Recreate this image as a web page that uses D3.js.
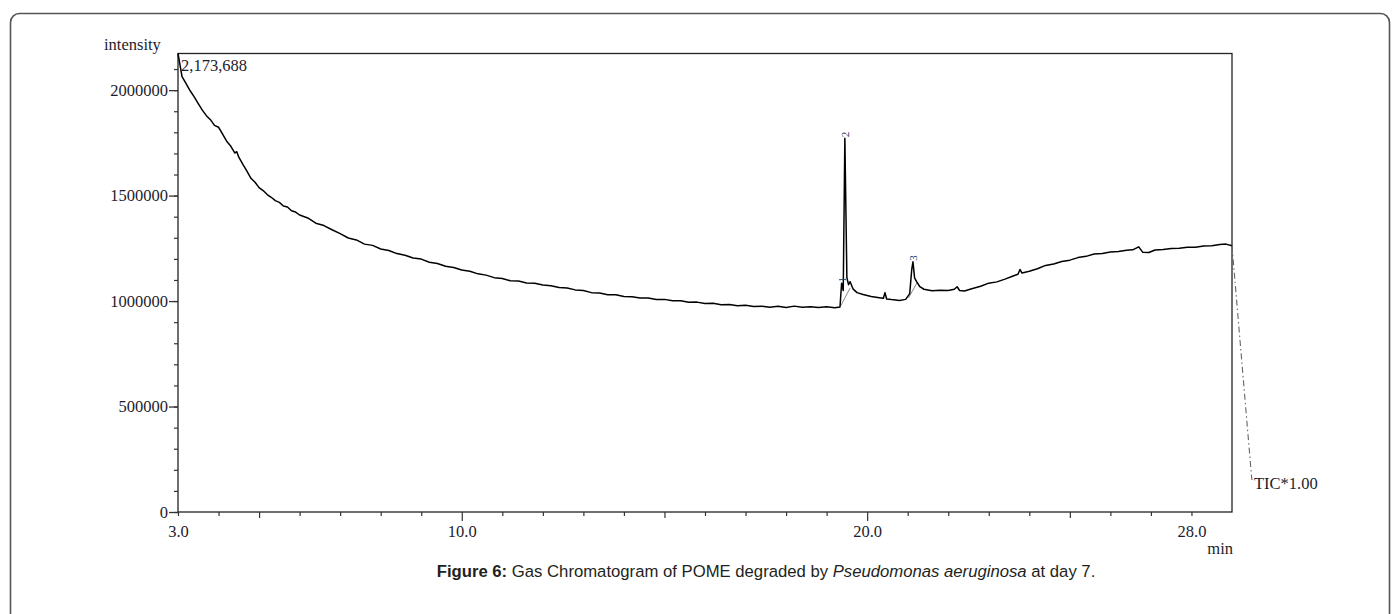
<!DOCTYPE html>
<html><head><meta charset="utf-8">
<script src="https://cdn.jsdelivr.net/npm/d3@7"></script>
<style>
html,body{margin:0;padding:0;background:#fff;}
svg{display:block;}
</style></head><body>
<svg id="chart" width="1400" height="614"></svg>
<script>
// Total ion chromatogram: retention time (min) and intensity
const retentionTime = [
  3.00,3.05,3.10,3.20,3.30,3.40,3.50,3.60,3.70,3.80,3.90,4.00,4.05,4.10,4.20,4.30,4.40,4.45,4.50,4.60,
  4.70,4.80,4.90,5.00,5.10,5.20,5.30,5.40,5.50,5.60,5.70,5.80,5.90,6.00,6.20,6.40,6.60,6.80,7.00,7.20,
  7.40,7.60,7.80,8.00,8.20,8.40,8.60,8.80,9.00,9.20,9.40,9.60,9.80,10.00,10.20,10.40,10.60,10.80,11.00,11.20,
  11.40,11.60,11.80,12.00,12.20,12.40,12.60,12.80,13.00,13.20,13.40,13.60,13.80,14.00,14.20,14.40,14.60,14.80,15.00,15.20,
  15.40,15.60,15.80,16.00,16.20,16.40,16.60,16.80,17.00,17.20,17.40,17.60,17.80,18.00,18.20,18.40,18.60,18.80,19.00,19.20,
  19.33,19.37,19.41,19.45,19.50,19.54,19.58,19.65,19.75,19.90,20.10,20.30,20.40,20.44,20.48,20.60,20.80,20.95,21.05,21.10,
  21.13,21.17,21.22,21.30,21.40,21.60,21.80,22.00,22.15,22.22,22.28,22.40,22.60,22.80,23.00,23.20,23.40,23.60,23.72,23.77,
  23.82,24.00,24.20,24.40,24.60,24.80,25.00,25.20,25.40,25.60,25.80,26.00,26.20,26.40,26.55,26.70,26.80,26.95,27.10,27.30,
  27.50,27.70,27.90,28.10,28.30,28.50,28.70,28.85,29.00
];
const intensity = [
  2173688,2118000,2064000,2031000,1997000,1968000,1936000,1905000,1879000,1860000,1833000,1824000,1808000,1792000,1758000,1735000,1702000,1708000,1682000,1648000,
  1616000,1582000,1563000,1538000,1524000,1505000,1492000,1476000,1468000,1451000,1446000,1428000,1422000,1408000,1394000,1369000,1358000,1338000,1320000,1299000,
  1290000,1270000,1264000,1247000,1240000,1225000,1217000,1204000,1199000,1184000,1178000,1165000,1159000,1147000,1141000,1129000,1123000,1111000,1107000,1096000,
  1095000,1086000,1084000,1076000,1073000,1064000,1062000,1053000,1050000,1040000,1038000,1030000,1030000,1022000,1021000,1015000,1015000,1007000,1008000,1001000,
  1002000,994000,995000,988000,990000,983000,984000,978000,980000,974000,976000,971000,975000,970000,976000,971000,973000,969000,973000,968000,
  972000,1085000,1050000,1772000,1112000,1078000,1092000,1058000,1040000,1031000,1022000,1016000,1013000,1040000,1010000,1007000,1003000,1008000,1035000,1150000,
  1186000,1110000,1092000,1068000,1056000,1049000,1051000,1050000,1056000,1068000,1050000,1048000,1060000,1070000,1085000,1091000,1104000,1119000,1127000,1150000,
  1133000,1141000,1153000,1169000,1176000,1188000,1194000,1206000,1212000,1223000,1226000,1233000,1235000,1241000,1243000,1257000,1231000,1230000,1242000,1244000,
  1249000,1250000,1255000,1255000,1261000,1262000,1268000,1270000,1262000
];

// Integrated peaks
const peakNumbers = ["1", "2", "3"];
const peakTimes = [19.37, 19.45, 21.13];
const peakHeights = [1085000, 1772000, 1186000];
// Integration baselines: [start time, start intensity, end time, end intensity]
const peakBaselines = [
  [19.35, 978000, 19.58, 1062000],
  [21.02, 1015000, 21.24, 1090000]
];

const maxIntensity = 2173688;
const yMajorTicks = [0, 500000, 1000000, 1500000, 2000000];
const xLabelTicks = [3.0, 10.0, 20.0, 28.0];
const timeRange = [3.0, 29.0];

const svg = d3.select("#chart");
const serif = "'Liberation Serif', 'Times New Roman', serif";
const textColor = "#1c1c2c";

const plotLeft = 178, plotRight = 1232, plotTop = 53.5, plotBottom = 512;
const x = d3.scaleLinear().domain(timeRange).range([plotLeft, plotRight]);
const y = d3.scaleLinear().domain([0, maxIntensity]).range([plotBottom, plotTop]);

// outer figure frame
svg.append("rect")
  .attr("x", 10.5).attr("y", 13.5).attr("width", 1379).attr("height", 640)
  .attr("rx", 9).attr("fill", "none").attr("stroke", "#555").attr("stroke-width", 1.6);

// plot box
svg.append("rect")
  .attr("x", plotLeft).attr("y", plotTop).attr("width", plotRight - plotLeft).attr("height", plotBottom - plotTop)
  .attr("fill", "none").attr("stroke", "#222").attr("stroke-width", 1.3);

// y axis: minor ticks every 100000, labelled ticks every 500000
const yMinor = d3.range(0, maxIntensity, 100000);
svg.append("g").attr("transform", `translate(${plotLeft},0)`)
  .call(d3.axisLeft(y).tickValues(yMinor).tickSize(4).tickFormat(""))
  .call(g => g.select(".domain").remove())
  .call(g => g.selectAll("line").attr("stroke", "#333").attr("stroke-width", 1.2));
svg.append("g").attr("transform", `translate(${plotLeft},0)`)
  .call(d3.axisLeft(y).tickValues(yMajorTicks).tickSize(9).tickPadding(1).tickFormat(d3.format("d")))
  .call(g => g.select(".domain").remove())
  .call(g => g.selectAll("line").attr("stroke", "#333").attr("stroke-width", 1.3))
  .call(g => g.selectAll("text").attr("font-family", serif).attr("font-size", 16.5).attr("fill", textColor));

// x axis: ticks every minute, longer at 5 and 10 min multiples
const xMinor = d3.range(3, 29, 1);
svg.append("g").attr("transform", `translate(0,${plotBottom})`)
  .call(d3.axisBottom(x).tickValues(xMinor).tickSize(4).tickFormat(""))
  .call(g => g.select(".domain").remove())
  .call(g => g.selectAll(".tick line")
    .attr("y2", d => d % 10 === 0 ? 9 : (d % 5 === 0 ? 6 : 4))
    .attr("stroke", "#333").attr("stroke-width", 1.2));
svg.append("g").attr("transform", `translate(0,${plotBottom})`)
  .call(d3.axisBottom(x).tickValues(xLabelTicks).tickSize(0).tickPadding(13).tickFormat(d3.format(".1f")))
  .call(g => g.select(".domain").remove())
  .call(g => g.selectAll("text").attr("font-family", serif).attr("font-size", 16.5).attr("fill", textColor));

// axis titles
svg.append("text").attr("x", 104).attr("y", 50)
  .attr("font-family", serif).attr("font-size", 16.5).attr("fill", textColor).text("intensity");
svg.append("text").attr("x", plotRight + 1).attr("y", 554).attr("text-anchor", "end")
  .attr("font-family", serif).attr("font-size", 16.5).attr("fill", textColor).text("min");

// maximum intensity label
svg.append("text").attr("x", plotLeft + 3).attr("y", 70.5)
  .attr("font-family", serif).attr("font-size", 16.5).attr("fill", textColor)
  .text(d3.format(",")(maxIntensity));

// integration baselines
svg.append("g").selectAll("line").data(peakBaselines).join("line")
  .attr("x1", d => x(d[0])).attr("y1", d => y(d[1]))
  .attr("x2", d => x(d[2])).attr("y2", d => y(d[3]))
  .attr("stroke", "#8a8a8a").attr("stroke-width", 1);

// chromatogram trace
const trace = retentionTime.map((t, i) => [t, intensity[i]]);
svg.append("path").datum(trace)
  .attr("fill", "none").attr("stroke", "#000").attr("stroke-width", 1.5)
  .attr("stroke-linejoin", "round")
  .attr("d", d3.line().x(d => x(d[0])).y(d => y(d[1])));

// peak numbers, rotated
svg.append("g").selectAll("text").data(peakNumbers).join("text")
  .attr("transform", (d, i) => `translate(${x(peakTimes[i]) + 4},${y(peakHeights[i]) - 1}) rotate(-90)`)
  .attr("font-family", serif).attr("font-size", 11).attr("fill", "#27346a")
  .text(d => d);

// TIC leader line and label
const last = trace[trace.length - 1];
svg.append("path")
  .attr("d", `M${x(last[0])},${y(last[1])} L1251.5,476 L1252,480`)
  .attr("fill", "none").attr("stroke", "#666").attr("stroke-width", 1.1)
  .attr("stroke-dasharray", "6,3,1.5,3");
svg.append("text").attr("x", 1254).attr("y", 489)
  .attr("font-family", serif).attr("font-size", 16.5).attr("fill", textColor).text("TIC*1.00");

// caption
const cap = svg.append("text").attr("x", 766).attr("y", 577).attr("text-anchor", "middle")
  .attr("font-family", "'Liberation Sans', Arial, sans-serif").attr("font-size", 16.7).attr("fill", "#231f20");
cap.append("tspan").attr("font-weight", "bold").text("Figure 6:");
cap.append("tspan").text(" Gas Chromatogram of POME degraded by ");
cap.append("tspan").attr("font-style", "italic").text("Pseudomonas aeruginosa");
cap.append("tspan").text(" at day 7.");
</script>
</body></html>
